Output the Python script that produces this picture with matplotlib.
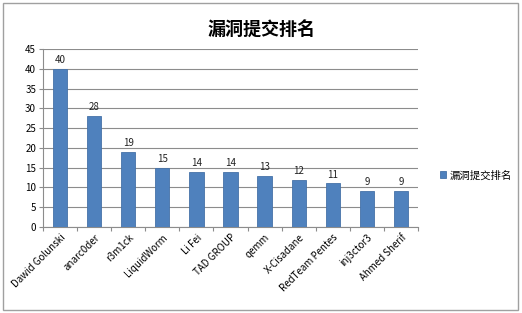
import matplotlib
matplotlib.use('Agg')
import matplotlib.pyplot as plt
import numpy as np
from matplotlib.patches import Rectangle

plt.rcParams['font.family'] = ['Noto Sans CJK SC', 'DejaVu Sans']

names = ['Dawid Golunski', 'anarc0der', 'r3m1ck', 'LiquidWorm', 'Li Fei', 'TAD GROUP',
         'qemm', 'X-Cisadane', 'RedTeam Pentes', 'inj3ctor3', 'Ahmed Sherif']
counts = [40, 28, 19, 15, 14, 14, 13, 12, 11, 9, 9]
title = '漏洞提交排名'

fig = plt.figure(figsize=(5.22, 3.13), dpi=100)
ax = fig.add_axes([0.0824, 0.2748, 0.7184, 0.5687])

x = np.arange(len(names))
bars = ax.bar(x, counts, width=0.42, color='#4F81BD', edgecolor='#4672A8', linewidth=0.6,
              label=title, zorder=3)
for xi, v in zip(x, counts):
    ax.text(xi, v + 1.0, str(v), ha='center', va='bottom', fontsize=7, color='#222222')

ax.set_xlim(-0.5, len(names) - 0.5)
ax.set_ylim(0, 45)
ax.set_yticks(range(0, 46, 5))
ax.yaxis.grid(True, color='#8c8c8c', linewidth=0.8, zorder=0)
ax.set_axisbelow(True)
for s in ['top', 'right']:
    ax.spines[s].set_visible(False)
ax.spines['left'].set_color('#8c8c8c')
ax.spines['bottom'].set_color('#8c8c8c')
ax.tick_params(axis='y', length=3, color='#8c8c8c', labelsize=7, pad=2)
ax.set_xticks(np.arange(len(names) + 1) - 0.5, minor=False)
ax.set_xticklabels([''] * (len(names) + 1))
ax.tick_params(axis='x', length=3, color='#8c8c8c')
ax.set_xticks(x, minor=True)
ax.set_xticklabels(names, minor=True, rotation=45, ha='right', rotation_mode='anchor',
                   fontsize=7)
ax.tick_params(axis='x', which='minor', length=0, pad=4)

fig.suptitle(title, y=0.935, fontsize=13, fontweight='bold')
fig.legend(handles=[bars], labels=[title], loc='center left', bbox_to_anchor=(0.825, 0.44),
           frameon=False, fontsize=7.5, handlelength=0.6, handleheight=0.6, handletextpad=0.3)

fig.patches.append(Rectangle((0.006, 0.01), 0.986, 0.98, transform=fig.transFigure,
                             fill=False, edgecolor='#a0a0a0', linewidth=1))

fig.savefig('out.png', dpi=100)
